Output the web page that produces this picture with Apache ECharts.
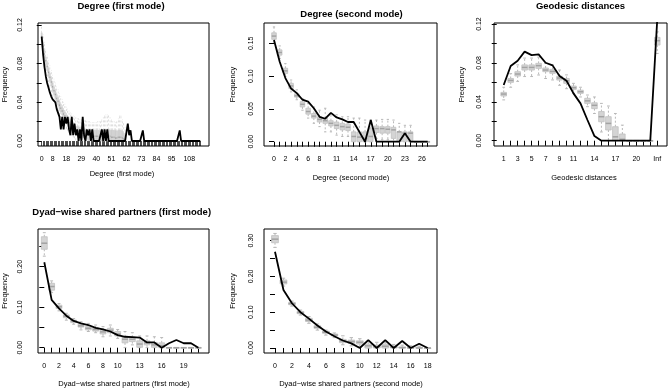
<!DOCTYPE html>
<html>
<head>
<meta charset="utf-8">
<script src="https://cdn.jsdelivr.net/npm/echarts@6.0.0/dist/echarts.min.js"></script>
<style>
  html, body { margin: 0; padding: 0; background: #fff; }
  #chart { width: 668px; height: 389px; }
</style>
</head>
<body>
<div id="chart"></div>
<script>
  // integer categories (degree / distance / shared partner counts)
  function seq (from, to) {
    const out = []
    for (let i = from; i <= to; i++) out.push(i)
    return out
  }

  // ---- Degree (first mode) ----
  const cats1 = seq(0, 116)
  const obs1 = [0.108, 0.090, 0.077, 0.067, 0.060, 0.055, 0.050, 0.046, 0.043, 0.041,
    0.040, 0.033, 0.033, 0.025, 0.012, 0.025, 0.012, 0.025, 0.018, 0.025,
    0.012, 0.006, 0.025, 0.006, 0.018, 0.006, 0.012, 0, 0.012, 0,
    0.025, 0.006, 0, 0.012, 0.006, 0.012, 0, 0.012, 0, 0,
    0, 0, 0, 0, 0.012, 0, 0.012, 0, 0.012, 0,
    0, 0, 0, 0, 0, 0, 0, 0, 0, 0,
    0, 0, 0, 0.018, 0.006, 0.011, 0, 0, 0, 0,
    0, 0, 0, 0, 0.011, 0, 0, 0, 0, 0,
    0, 0, 0, 0, 0, 0, 0, 0, 0, 0,
    0, 0, 0, 0, 0, 0, 0, 0, 0, 0,
    0, 0.011, 0, 0, 0, 0, 0, 0, 0, 0,
    0, 0, 0, 0, 0, 0, 0]
  // simulated boxes, degrees 0..61 (all zero above)
  const med1 = [0.108, 0.098, 0.090, 0.083, 0.077, 0.071, 0.066, 0.061, 0.056, 0.052,
    0.048, 0.044, 0.041, 0.037, 0.034, 0.031, 0.028, 0.026, 0.023, 0.021,
    0.019, 0.017, 0.016, 0.014, 0.013, 0.011, 0.011, 0.010, 0.010, 0.009,
    0.008, 0.008, 0.007, 0.007, 0.006, 0.006, 0.006, 0.005, 0.005, 0.005,
    0.005, 0.005, 0.004, 0.004, 0.005, 0.005, 0.005, 0.005, 0.005, 0.006,
    0.005, 0.004, 0.004, 0.004, 0.003, 0.003, 0.004, 0.004, 0.004, 0.003,
    0.002, 0.001]
  const q1s1 = [0.104, 0.094, 0.086, 0.079, 0.073, 0.067, 0.062, 0.057, 0.052, 0.048,
    0.044, 0.040, 0.037, 0.033, 0.030, 0.027, 0.024, 0.022, 0.019, 0.017,
    0.015, 0.013, 0.012, 0.010, 0.009, 0.007, 0.006, 0.005, 0.005, 0.004,
    0.003, 0.003, 0.002, 0.002, 0.001, 0.001, 0.001, 0, 0, 0,
    0, 0, 0, 0, 0, 0, 0, 0, 0, 0,
    0, 0, 0, 0, 0, 0, 0, 0, 0, 0,
    0, 0]
  const q3s1 = [0.112, 0.102, 0.094, 0.087, 0.081, 0.075, 0.070, 0.065, 0.060, 0.056,
    0.052, 0.048, 0.045, 0.041, 0.038, 0.035, 0.032, 0.030, 0.027, 0.025,
    0.023, 0.021, 0.020, 0.018, 0.017, 0.015, 0.015, 0.014, 0.014, 0.013,
    0.012, 0.012, 0.011, 0.011, 0.011, 0.011, 0.011, 0.011, 0.011, 0.011,
    0.011, 0.011, 0.011, 0.010, 0.011, 0.011, 0.011, 0.011, 0.011, 0.012,
    0.011, 0.011, 0.011, 0.011, 0.011, 0.010, 0.011, 0.011, 0.011, 0.010,
    0.008, 0.006]
  const lo1 = [0.098, 0.088, 0.080, 0.073, 0.067, 0.061, 0.056, 0.051, 0.046, 0.042,
    0.038, 0.034, 0.031, 0.027, 0.024, 0.021, 0.018, 0.016, 0.013, 0.011,
    0.009, 0.007, 0.006, 0.004, 0.003, 0.001, 0, 0, 0, 0,
    0, 0, 0, 0, 0, 0, 0, 0, 0, 0,
    0, 0, 0, 0, 0, 0, 0, 0, 0, 0,
    0, 0, 0, 0, 0, 0, 0, 0, 0, 0,
    0, 0]
  const hi1 = [0.120, 0.110, 0.102, 0.095, 0.089, 0.083, 0.078, 0.073, 0.068, 0.064,
    0.060, 0.056, 0.053, 0.049, 0.046, 0.043, 0.040, 0.038, 0.035, 0.033,
    0.031, 0.029, 0.028, 0.026, 0.025, 0.024, 0.023, 0.023, 0.022, 0.022,
    0.022, 0.021, 0.021, 0.020, 0.020, 0.020, 0.019, 0.019, 0.019, 0.019,
    0.019, 0.020, 0.020, 0.020, 0.022, 0.024, 0.026, 0.027, 0.027, 0.026,
    0.024, 0.022, 0.020, 0.020, 0.019, 0.020, 0.023, 0.026, 0.026, 0.022,
    0.018, 0.014]
  const xLabels1 = [0, 8, 18, 29, 40, 51, 62, 73, 84, 95, 108]
  const yTicks1 = [0, 0.02, 0.04, 0.06, 0.08, 0.10, 0.12]
  const yLabels1 = [0, 0.04, 0.08, 0.12]

  // ---- Degree (second mode) ----
  const cats2 = seq(0, 27)
  const obs2 = [0.155, 0.122, 0.097, 0.081, 0.074, 0.064, 0.061, 0.051, 0.038, 0.035,
    0.044, 0.037, 0.034, 0.030, 0.030, 0.015, 0, 0.033, 0, 0,
    0, 0, 0, 0.013, 0, 0, 0, 0]
  const med2 = [0.161, 0.136, 0.108, 0.085, 0.070, 0.057, 0.046, 0.039, 0.034, 0.032,
    0.028, 0.025, 0.023, 0.022, 0.008, 0.007, 0.005, 0.008, 0.020, 0.020,
    0.019, 0.018, 0.015, 0.013, 0.013, 0, 0, 0]
  const q1s2 = [0.156, 0.132, 0.104, 0.081, 0.068, 0.053, 0.042, 0.036, 0.030, 0.028,
    0.024, 0.020, 0.018, 0.017, 0, 0, 0, 0, 0.014, 0.013,
    0.013, 0.005, 0, 0, 0, 0, 0, 0]
  const q3s2 = [0.166, 0.140, 0.112, 0.089, 0.073, 0.061, 0.051, 0.043, 0.038, 0.036,
    0.032, 0.030, 0.028, 0.027, 0.015, 0.015, 0.015, 0.020, 0.024, 0.023,
    0.023, 0.022, 0.015, 0.015, 0.015, 0, 0, 0]
  const lo2 = [0.152, 0.127, 0.099, 0.076, 0.064, 0.048, 0.036, 0.028, 0.023, 0.015,
    0.015, 0.010, 0.008, 0.008, 0, 0, 0, 0, 0.005, 0.003,
    0.003, 0, 0, 0, 0, 0, 0, 0]
  const hi2 = [0.175, 0.146, 0.119, 0.094, 0.079, 0.066, 0.058, 0.053, 0.048, 0.051,
    0.043, 0.041, 0.038, 0.038, 0.036, 0.036, 0.033, 0.033, 0.033, 0.034,
    0.034, 0.033, 0.028, 0.025, 0.025, 0, 0, 0]
  const xLabels2 = [0, 2, 4, 6, 8, 11, 14, 17, 20, 23, 26]
  const yTicks2 = [0, 0.05, 0.10, 0.15]

  // ---- Geodesic distances (23 = Inf) ----
  const cats3 = seq(1, 23)
  const obs3 = [0.0573, 0.0768, 0.0823, 0.0916, 0.0881, 0.0888, 0.0802, 0.0775, 0.0665, 0.0617,
    0.0487, 0.0384, 0.0213, 0.0048, 0, 0, 0, 0, 0, 0,
    0, 0, 0.125]
  const med3 = [0.048, 0.062, 0.0686, 0.0754, 0.0754, 0.0772, 0.0727, 0.0713, 0.0645, 0.0617,
    0.0545, 0.0504, 0.041, 0.0364, 0.0247, 0.0178, 0.004, 0.0014, 0, 0,
    0, 0, 0.1029]
  const q1s3 = [0.046, 0.060, 0.0665, 0.0727, 0.0727, 0.0744, 0.071, 0.0693, 0.0624, 0.059,
    0.0528, 0.0487, 0.0384, 0.033, 0.0195, 0.011, 0, 0, 0, 0,
    0, 0, 0.0984]
  const q3s3 = [0.0497, 0.064, 0.071, 0.078, 0.078, 0.0796, 0.0748, 0.0734, 0.0665, 0.064,
    0.0562, 0.052, 0.0436, 0.039, 0.030, 0.0247, 0.0144, 0.0069, 0, 0,
    0, 0, 0.1063]
  const lo3 = [0.042, 0.055, 0.061, 0.066, 0.066, 0.0676, 0.064, 0.0625, 0.057, 0.0535,
    0.0487, 0.045, 0.035, 0.028, 0.009, 0, 0, 0, 0, 0,
    0, 0, 0.0898]
  const hi3 = [0.055, 0.069, 0.078, 0.085, 0.085, 0.086, 0.0796, 0.078, 0.0727, 0.0677,
    0.059, 0.055, 0.047, 0.045, 0.0384, 0.0357, 0.028, 0.016, 0, 0,
    0, 0, 0.112]
  const xLabels3 = [1, 3, 5, 7, 9, 11, 14, 17, 20, 23]

  // ---- Dyad-wise shared partners (first mode) ----
  const cats4 = seq(0, 21)
  const obs4 = [0.211, 0.118, 0.097, 0.079, 0.066, 0.060, 0.056, 0.049, 0.045, 0.040,
    0.031, 0.027, 0.026, 0.025, 0.013, 0.013, 0, 0.011, 0.019, 0.011,
    0.011, 0]
  const med4 = [0.258, 0.151, 0.101, 0.078, 0.066, 0.054, 0.048, 0.045, 0.039, 0.043,
    0.034, 0.021, 0.021, 0.009, 0.012, 0.007, 0.005, 0, 0, 0, 0, 0]
  const q1s4 = [0.243, 0.142, 0.097, 0.074, 0.062, 0.051, 0.044, 0.041, 0.034, 0.037,
    0.029, 0.012, 0.015, 0.001, 0.007, 0.001, 0, 0, 0, 0, 0, 0]
  const q3s4 = [0.274, 0.159, 0.105, 0.081, 0.068, 0.058, 0.052, 0.049, 0.044, 0.048,
    0.040, 0.027, 0.026, 0.017, 0.017, 0.013, 0.012, 0, 0, 0, 0, 0]
  const lo4 = [0.226, 0.136, 0.091, 0.068, 0.058, 0.044, 0.040, 0.037, 0.027, 0.029,
    0.023, 0, 0.007, 0, 0, 0, 0, 0, 0, 0, 0, 0]
  const hi4 = [0.284, 0.165, 0.109, 0.085, 0.072, 0.064, 0.060, 0.056, 0.052, 0.056,
    0.045, 0.040, 0.037, 0.029, 0.029, 0.027, 0.025, 0, 0, 0, 0, 0]
  const xLabels4 = [0, 2, 4, 6, 8, 10, 13, 16, 19]
  const yTicks4 = [0, 0.05, 0.10, 0.15, 0.20, 0.25]
  const yLabels4 = [0, 0.10, 0.20]

  // ---- Dyad-wise shared partners (second mode) ----
  const cats5 = seq(0, 18)
  const obs5 = [0.269, 0.162, 0.125, 0.100, 0.082, 0.063, 0.046, 0.033, 0.021, 0.013,
    0, 0.022, 0, 0.022, 0, 0.0195, 0, 0.012, 0]
  const med5 = [0.304, 0.184, 0.124, 0.099, 0.078, 0.058, 0.044, 0.036, 0.020, 0.018,
    0.016, 0.006, 0.004, 0.005, 0.002, 0.001, 0, 0, 0]
  const q1s5 = [0.294, 0.179, 0.121, 0.096, 0.074, 0.055, 0.041, 0.034, 0.015, 0.013,
    0.011, 0, 0, 0, 0, 0, 0, 0, 0]
  const q3s5 = [0.314, 0.190, 0.127, 0.102, 0.083, 0.062, 0.047, 0.039, 0.024, 0.022,
    0.020, 0.011, 0.008, 0.011, 0.005, 0.003, 0.002, 0.002, 0]
  const lo5 = [0.281, 0.173, 0.117, 0.092, 0.069, 0.050, 0.036, 0.029, 0.009, 0.006,
    0.004, 0, 0, 0, 0, 0, 0, 0, 0]
  const hi5 = [0.320, 0.195, 0.131, 0.106, 0.088, 0.067, 0.050, 0.042, 0.034, 0.029,
    0.026, 0.020, 0.016, 0.016, 0.010, 0.008, 0.006, 0.005, 0]
  const xLabels5 = [0, 2, 4, 6, 8, 10, 12, 14, 16, 18]
  const yTicks5 = [0, 0.05, 0.10, 0.15, 0.20, 0.25, 0.30]
  const yLabels5 = [0, 0.10, 0.20, 0.30]

  const FONT = '"Liberation Sans", Arial, Helvetica, sans-serif'

  const panels = [
    {grid: {left: 38, top: 23, width: 171, height: 123}, x: [-2.71, 122.41], y: [-0.00517, 0.12207],
      cats: cats1, obs: obs1, box: [lo1, q1s1, med1, q3s1, hi1], tickWidth: 0.7,
      xLabels: xLabels1, yTicks: yTicks1, yLabels: yLabels1, yMargin: 14,
      title: 'Degree (first mode)', titlePos: [121, 6], xName: 'Degree (first mode)', xNamePos: [122, 174], yNamePos: [4.5, 84.5]},
    {grid: {left: 264, top: 23, width: 173, height: 123}, x: [-1.757, 28.637], y: [-0.00655, 0.18095],
      cats: cats2, obs: obs2, box: [lo2, q1s2, med2, q3s2, hi2],
      xLabels: xLabels2, yTicks: yTicks2, yLabels: yTicks2, yMargin: 9.5,
      title: 'Degree (second mode)', titlePos: [351.5, 14.5], xName: 'Degree (second mode)', xNamePos: [351, 178.3], yNamePos: [232.5, 84.5]},
    {grid: {left: 494, top: 23, width: 173, height: 123}, x: [-0.39, 24.395], y: [-0.00545, 0.12109],
      cats: cats3, obs: obs3, box: [lo3, q1s3, med3, q3s3, hi3],
      xLabels: xLabels3, yTicks: yTicks1, yLabels: yLabels1, yMargin: 11,
      xFmt: v => (v === 23 ? 'Inf' : String(v)),
      title: 'Geodesic distances', titlePos: [580.5, 6], xName: 'Geodesic distances', xNamePos: [584, 178.3], yNamePos: [461.5, 84.5]},
    {grid: {left: 38, top: 229, width: 171, height: 124}, x: [-0.859, 22.447], y: [-0.01309, 0.29309],
      cats: cats4, obs: obs4, box: [lo4, q1s4, med4, q3s4, hi4],
      xLabels: xLabels4, yTicks: yTicks4, yLabels: yLabels4, yMargin: 14,
      title: 'Dyad\u2212wise shared partners (first mode)', titlePos: [121.7, 212],
      xName: 'Dyad\u2212wise shared partners (first mode)', xNamePos: [124, 383.7], yNamePos: [4.5, 291]},
    {grid: {left: 264, top: 229, width: 173, height: 124}, x: [-1.297, 19.104], y: [-0.01397, 0.3324],
      cats: cats5, obs: obs5, box: [lo5, q1s5, med5, q3s5, hi5],
      xLabels: xLabels5, yTicks: yTicks5, yLabels: yLabels5, yMargin: 9.5,
      title: '', titlePos: [351, 212],
      xName: 'Dyad\u2212wise shared partners (second mode)', xNamePos: [351, 383.7], yNamePos: [232.5, 291]}
  ]

  // R-style boxplot: grey box, darker median, dashed whiskers with caps
  function boxItem (params, api) {
    const x = api.value(0)
    const lo = api.coord([x, api.value(1)])
    const q1 = api.coord([x, api.value(2)])
    const md = api.coord([x, api.value(3)])
    const q3 = api.coord([x, api.value(4)])
    const hi = api.coord([x, api.value(5)])
    const w = api.size([0.8, 0])[0]
    const cx = md[0]
    // thin boxes (crowded panel) get thinner strokes
    const lw = Math.min(1, w / 2.5)
    const dash = () => ({stroke: '#b8b8b8', lineWidth: lw, lineDash: [2, 2]})
    const solid = () => ({stroke: '#b8b8b8', lineWidth: lw})
    return {
      type: 'group',
      children: [
        {type: 'line', shape: {x1: cx, y1: q3[1], x2: cx, y2: hi[1]}, style: dash()},
        {type: 'line', shape: {x1: cx, y1: q1[1], x2: cx, y2: lo[1]}, style: dash()},
        {type: 'line', shape: {x1: cx - w / 4, y1: hi[1], x2: cx + w / 4, y2: hi[1]}, style: solid()},
        {type: 'line', shape: {x1: cx - w / 4, y1: lo[1], x2: cx + w / 4, y2: lo[1]}, style: solid()},
        {type: 'rect', shape: {x: cx - w / 2, y: q3[1], width: w, height: Math.max(q1[1] - q3[1], 0.5)},
          style: {fill: '#d4d4d4', stroke: '#c0c0c0', lineWidth: 0.8 * lw}},
        {type: 'line', shape: {x1: cx - w / 2, y1: md[1], x2: cx + w / 2, y2: md[1]},
          style: {stroke: '#a3a3a3', lineWidth: 1.5}}
      ]
    }
  }

  const grids = []
  const xAxes = []
  const yAxes = []
  const series = []
  const texts = []

  function label (text, pos, font, rotation) {
    texts.push({
      type: 'text', x: pos[0], y: pos[1], rotation: rotation || 0, silent: true,
      style: {text: text, font: font, fill: '#000', textAlign: 'center', textVerticalAlign: 'middle',
        align: 'center', verticalAlign: 'middle'}
    })
  }

  panels.forEach(function (p, i) {
    grids.push(Object.assign({show: true, borderColor: '#000', borderWidth: 1, backgroundColor: 'transparent'}, p.grid))
    xAxes.push({
      gridIndex: i, type: 'value', min: p.x[0], max: p.x[1],
      axisLine: {show: false}, splitLine: {show: false},
      axisTick: {show: true, length: 5, customValues: p.cats, lineStyle: {color: '#000', width: p.tickWidth || 1}},
      axisLabel: {customValues: p.xLabels, formatter: p.xFmt || (v => String(v)), margin: 9.5,
        fontSize: 7, fontFamily: FONT, color: '#000'}
    })
    yAxes.push({
      gridIndex: i, type: 'value', min: p.y[0], max: p.y[1],
      axisLine: {show: false}, splitLine: {show: false},
      axisTick: {show: true, length: 5, customValues: p.yTicks, lineStyle: {color: '#000', width: 1}},
      axisLabel: {customValues: p.yLabels, formatter: v => v.toFixed(2), rotate: 90, margin: p.yMargin,
        fontSize: 7, fontFamily: FONT, color: '#000'}
    })
    const boxData = p.box[2].map((m, j) => [p.cats[j], p.box[0][j], p.box[1][j], m, p.box[3][j], p.box[4][j]])
    series.push({
      type: 'custom', xAxisIndex: i, yAxisIndex: i, renderItem: boxItem, data: boxData,
      encode: {x: 0, y: [1, 2, 3, 4, 5]}, clip: true, silent: true, z: 2
    })
    series.push({
      type: 'line', xAxisIndex: i, yAxisIndex: i, data: p.cats.map((c, j) => [c, p.obs[j]]),
      symbol: 'none', lineStyle: {color: '#000', width: 1.8}, clip: true, silent: true, z: 5
    })
    if (p.title) label(p.title, p.titlePos, 'bold 9.5px ' + FONT)
    label(p.xName, p.xNamePos, '7.5px ' + FONT)
    label('Frequency', p.yNamePos, '7.5px ' + FONT, Math.PI / 2)
  })

  const chart = echarts.init(document.getElementById('chart'))
  chart.setOption({
    animation: false,
    backgroundColor: '#fff',
    grid: grids,
    xAxis: xAxes,
    yAxis: yAxes,
    series: series,
    graphic: texts
  })
</script>
</body>
</html>
